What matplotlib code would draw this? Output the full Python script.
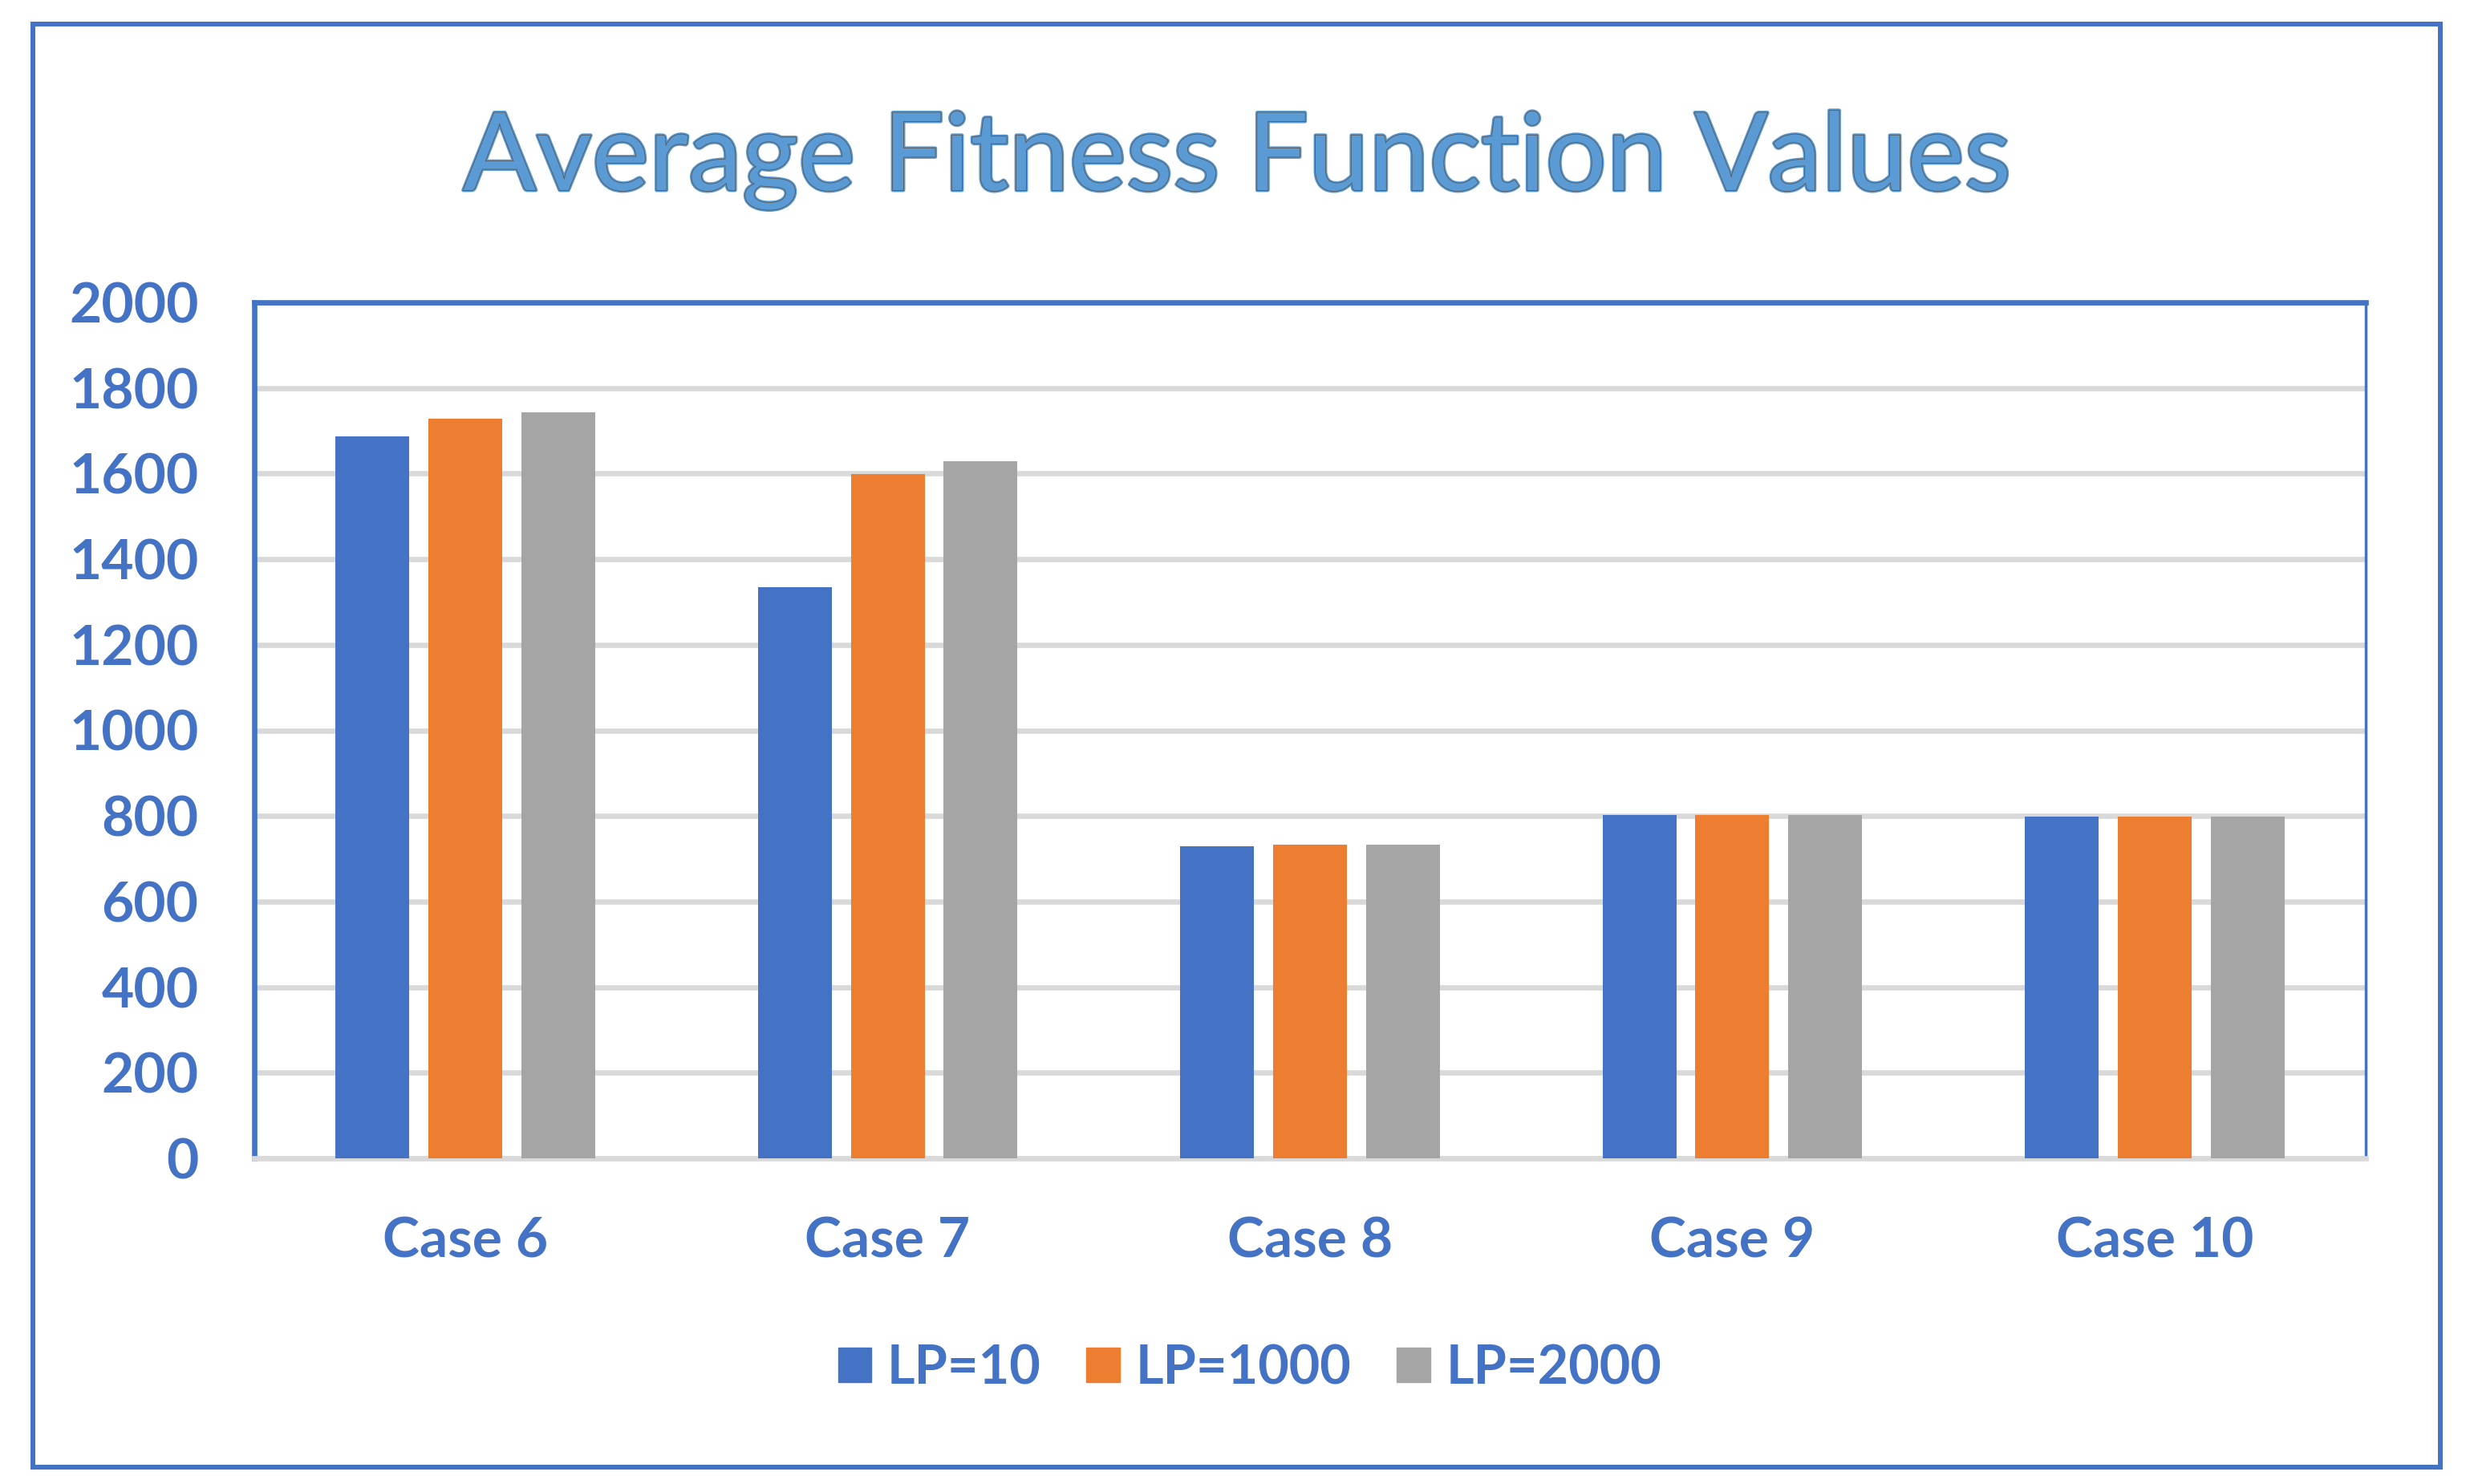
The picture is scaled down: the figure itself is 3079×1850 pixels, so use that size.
import numpy as np
import matplotlib
matplotlib.use('Agg')
import matplotlib.pyplot as plt
import matplotlib.patheffects as pe
from matplotlib.patches import Rectangle
from matplotlib.patches import Patch

# data
cases = ['Case 6', 'Case 7', 'Case 8', 'Case 9', 'Case 10']
lp10 = [1687, 1334, 729, 802, 799]
lp1000 = [1729, 1598, 733, 802, 799]
lp2000 = [1744, 1629, 733, 802, 799]
series_names = ['LP=10', 'LP=1000', 'LP=2000']
yticks = [0, 200, 400, 600, 800, 1000, 1200, 1400, 1600, 1800, 2000]

blue = '#4472C4'
orange = '#ED7D31'
gray = '#A5A5A5'
grid_col = '#D9D9D9'

plt.rcParams['font.family'] = ['Lato', 'DejaVu Sans']

W, H = 3079, 1850
fig = plt.figure(figsize=(W / 100, H / 100), dpi=100)

# outer chart border
fig.patches.append(Rectangle((41 / W, 1 - 1829 / H), (3042 - 41) / W, (1829 - 30) / H,
                             transform=fig.transFigure, fill=False,
                             edgecolor=blue, linewidth=4.3, zorder=0))

left, right, top, bottom = 317, 2949, 377, 1444
ax = fig.add_axes([left / W, 1 - bottom / H, (right - left) / W, (bottom - top) / H])

x = np.arange(len(cases))
w = 0.175
off = 0.22
ax.bar(x - off, lp10, w, color=blue, zorder=3)
ax.bar(x, lp1000, w, color=orange, zorder=3)
ax.bar(x + off, lp2000, w, color=gray, zorder=3)

ax.set_xlim(-0.5, len(cases) - 0.5)
ax.set_ylim(0, 2000)
ax.set_yticks(yticks)
ax.set_xticks(x)
ax.set_xticklabels(cases)
ax.yaxis.grid(True, color=grid_col, linewidth=4.8, zorder=0)
ax.set_axisbelow(True)
ax.tick_params(length=0)
ax.tick_params(axis='y', pad=50, labelsize=50, labelcolor=blue)
ax.tick_params(axis='x', pad=52, labelsize=50, labelcolor=blue)
for lab in ax.get_xticklabels() + ax.get_yticklabels():
    lab.set_fontweight('bold')

for s in ['top', 'left']:
    ax.spines[s].set_color(blue)
    ax.spines[s].set_linewidth(4.8)
ax.spines['right'].set_color(blue)
ax.spines['right'].set_linewidth(2.5)
ax.spines['bottom'].set_color(grid_col)
ax.spines['bottom'].set_linewidth(4.8)

title = fig.text(0.501, 1 - 237 / H, 'Average Fitness Function Values',
                 ha='center', va='baseline', fontsize=97, fontweight='normal',
                 color='#5B9BD5')
title.set_path_effects([pe.Stroke(linewidth=3.5, foreground='#5B9BD5'),
                        pe.Stroke(linewidth=1.3, foreground='#595959'),
                        pe.Normal()])

handles = [Patch(color=c) for c in [blue, orange, gray]]
leg = fig.legend(handles, series_names, loc='center', bbox_to_anchor=(0.506, 1 - 1706 / H),
                 ncol=3, frameon=False, fontsize=48, handlelength=0.62, handleheight=0.62,
                 handletextpad=0.3, columnspacing=0.85)
for t in leg.get_texts():
    t.set_color(blue)
    t.set_fontweight('bold')

fig.savefig('out.png', dpi=100)
